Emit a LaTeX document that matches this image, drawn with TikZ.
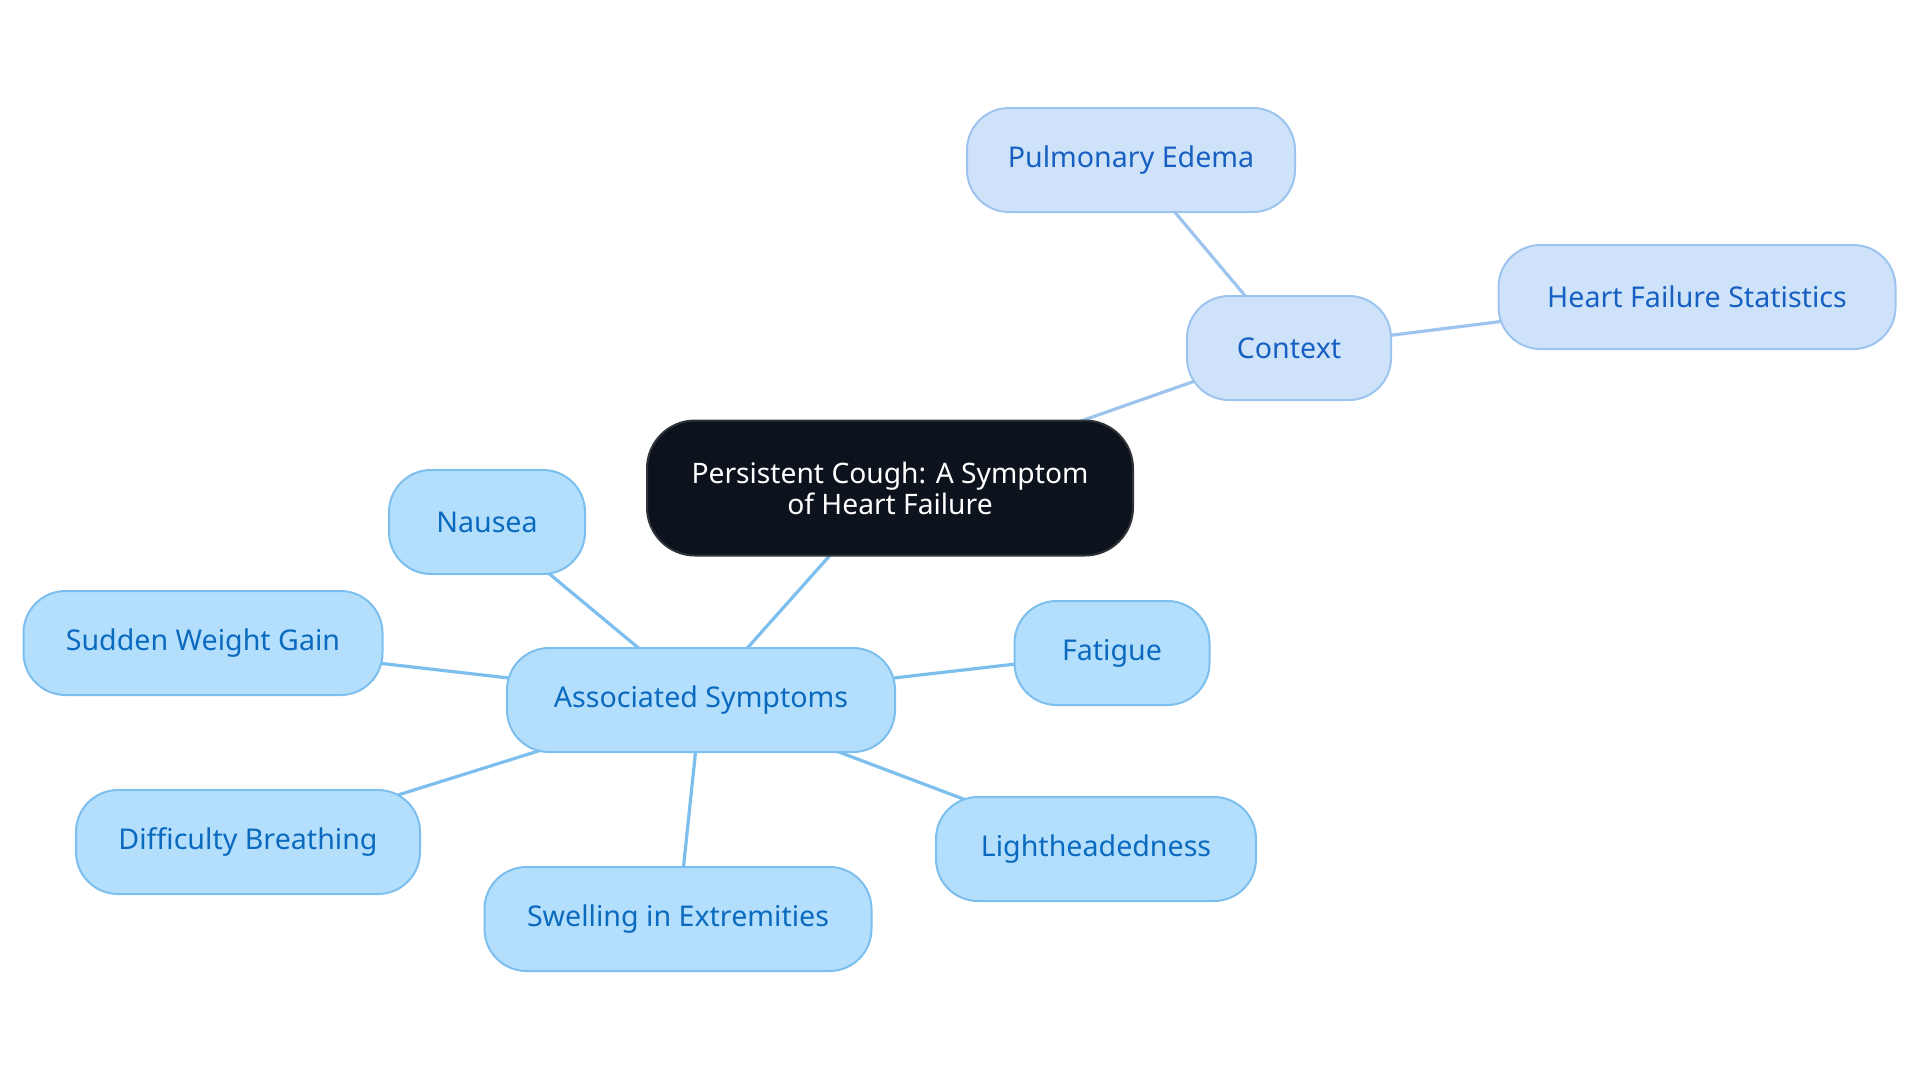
\documentclass[tikz,border=0pt]{standalone}
\usepackage{fontspec}
\setmainfont{Noto Sans}
\usetikzlibrary{backgrounds}
\definecolor{rootfill}{HTML}{0D131C}
\definecolor{rootline}{HTML}{30343A}
\definecolor{symfill}{HTML}{B4DFFC}
\definecolor{symline}{HTML}{7CBFEE}
\definecolor{symtext}{HTML}{0A6ABF}
\definecolor{ctxfill}{HTML}{CEE3FA}
\definecolor{ctxline}{HTML}{9DC4EE}
\definecolor{ctxtext}{HTML}{1760C2}
\begin{document}
\begin{tikzpicture}[x=0.5pt,y=-0.5pt,
  topic/.style={draw=rootline, fill=rootfill, text=white, line width=1pt, rounded corners=24pt, minimum height=67.5pt, align=center, font=\fontsize{14.1}{15.5}\selectfont},
  symptom/.style={draw=symline, fill=symfill, text=symtext, line width=1pt, rounded corners=21pt, minimum height=52pt, font=\fontsize{14.3}{17}\selectfont},
  ctx/.style={symptom, draw=ctxline, fill=ctxfill, text=ctxtext},
  symlink/.style={draw=symline, line width=1.6pt},
  ctxlink/.style={draw=ctxline, line width=1.6pt}]
\useasboundingbox (0,0) rectangle (1920,1083);

\node [topic, minimum width=243pt] (cough) at (890,488) {Persistent Cough: A Symptom\\of Heart Failure};

\node [ctx, minimum width=102pt] (context) at (1289,348) {Context};
\node [ctx, minimum width=164pt] (edema) at (1131,160) {Pulmonary Edema};
\node [ctx, minimum width=198.5pt] (stats) at (1697,297) {Heart Failure Statistics};

\node [symptom, minimum width=194pt] (assoc) at (701,700) {Associated Symptoms};
\node [symptom, minimum width=98pt] (nausea) at (487,522) {Nausea};
\node [symptom, minimum width=179.5pt] (weight) at (203,643) {Sudden Weight Gain};
\node [symptom, minimum width=97.5pt] (fatigue) at (1112,653) {Fatigue};
\node [symptom, minimum width=172pt] (breath) at (248,842) {Difficulty Breathing};
\node [symptom, minimum width=193.5pt] (swell) at (678,919) {Swelling in Extremities};
\node [symptom, minimum width=160pt] (light) at (1096,849) {Lightheadedness};

\begin{pgfonlayer}{background}
\draw [ctxlink] (cough.center) -- (context.center);
\draw [ctxlink] (context.center) -- (edema.center);
\draw [ctxlink] (context.center) -- (stats.center);
\draw [symlink] (cough.center) -- (assoc.center);
\draw [symlink] (assoc.center) -- (nausea.center);
\draw [symlink] (assoc.center) -- (weight.center);
\draw [symlink] (assoc.center) -- (fatigue.center);
\draw [symlink] (assoc.center) -- (breath.center);
\draw [symlink] (assoc.center) -- (swell.center);
\draw [symlink] (assoc.center) -- (light.center);
\end{pgfonlayer}
\end{tikzpicture}
\end{document}
